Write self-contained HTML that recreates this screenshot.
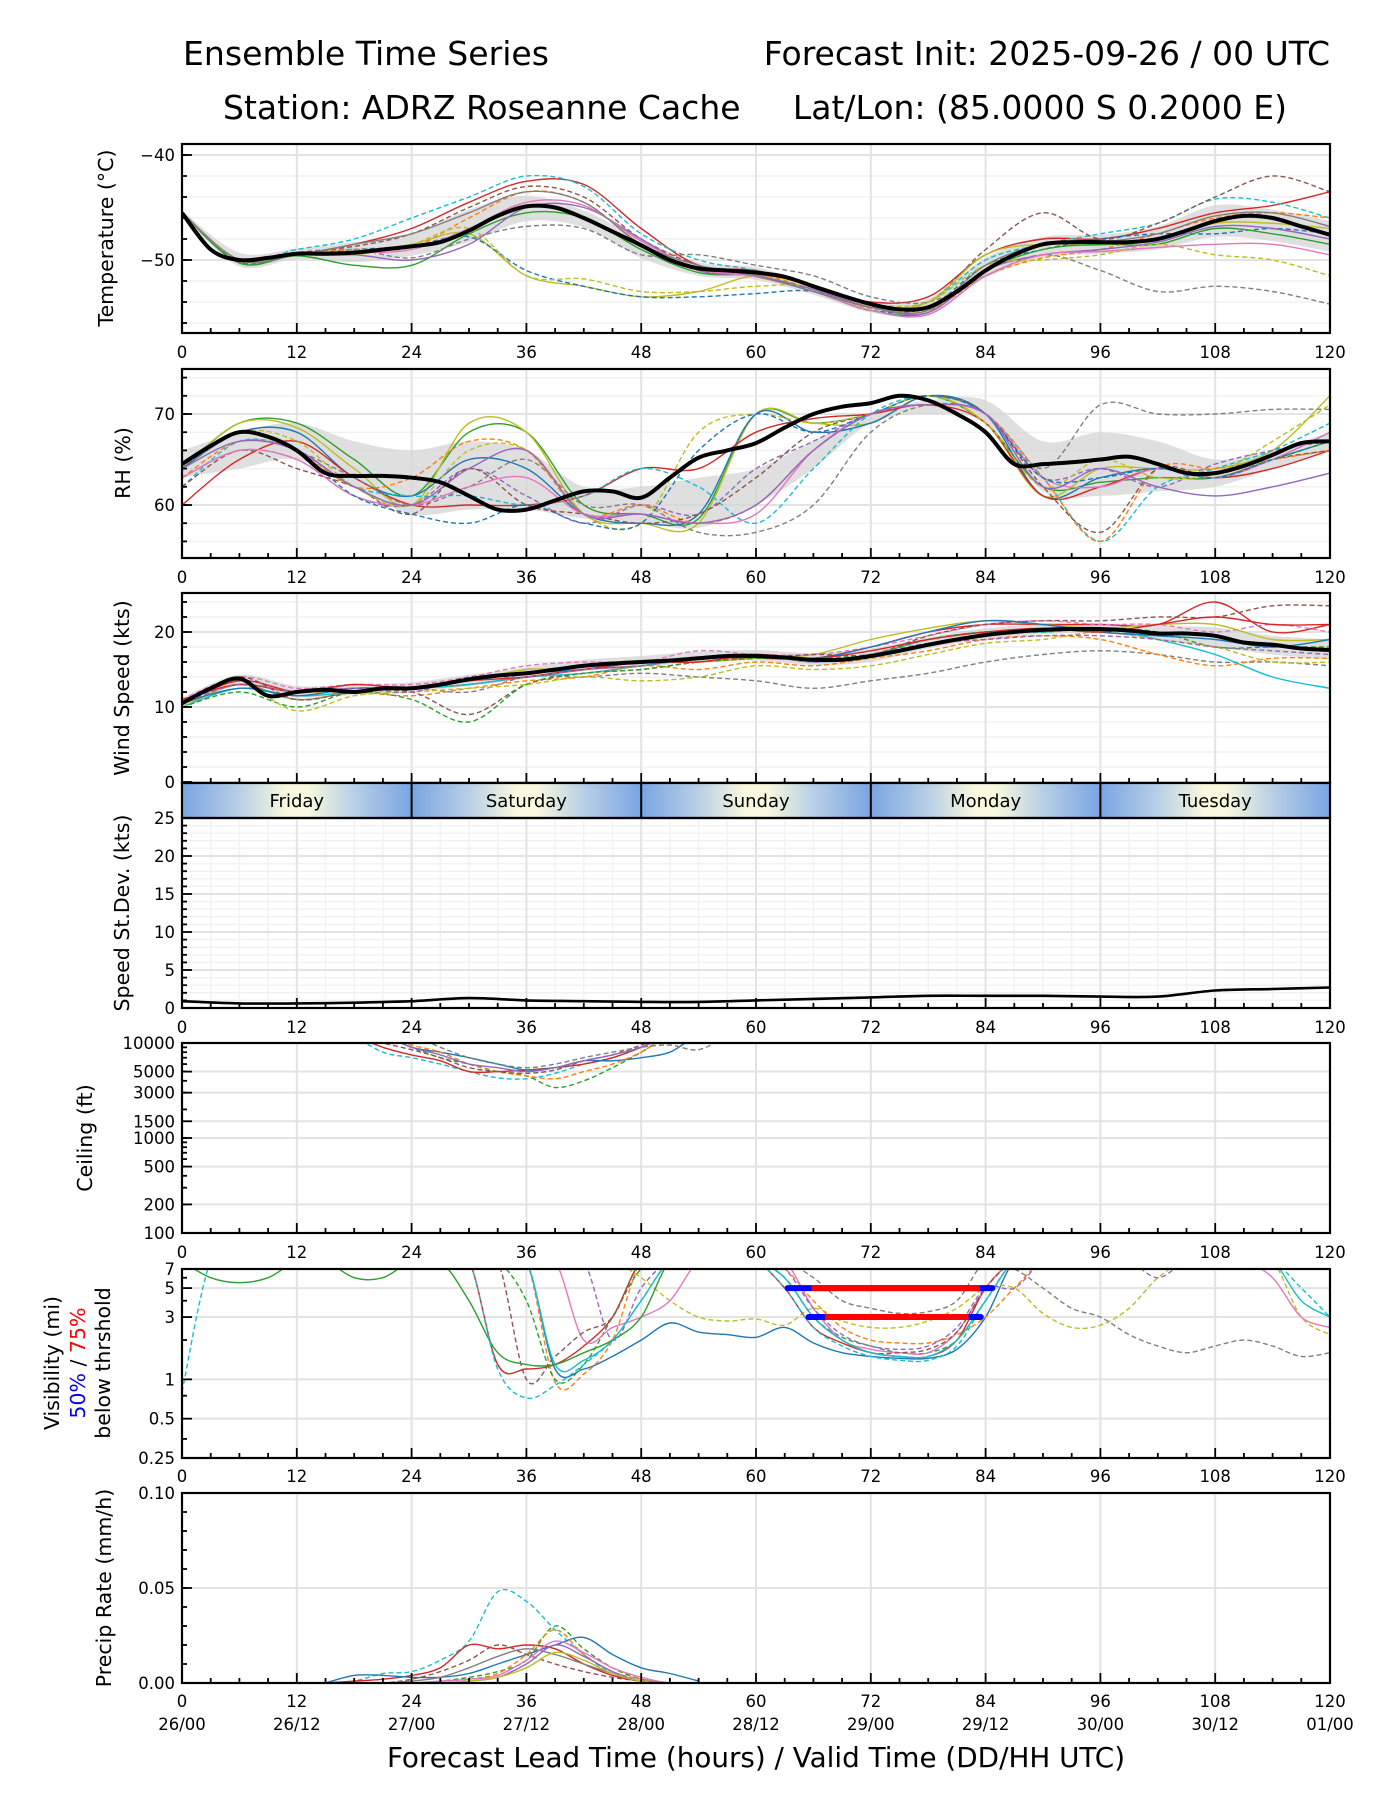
<!DOCTYPE html>
<html><head><meta charset="utf-8"><title>Ensemble Time Series</title>
<style>
html,body{margin:0;padding:0;background:#fff;}
svg{display:block;font-family:"DejaVu Sans","Liberation Sans",sans-serif;}
</style></head>
<body>
<svg id="chart" width="1400" height="1800" viewBox="0 0 1400 1800" xmlns="http://www.w3.org/2000/svg">
<rect width="1400" height="1800" fill="#fff"/>
<text x="183" y="65" font-size="33" textLength="366" lengthAdjust="spacingAndGlyphs">Ensemble Time Series</text>
<text x="1330" y="65" font-size="33" text-anchor="end">Forecast Init: 2025-09-26 / 00 UTC</text>
<text x="223" y="119" font-size="33">Station: ADRZ Roseanne Cache</text>
<text x="1287" y="119" font-size="33" text-anchor="end">Lat/Lon: (85.0000 S 0.2000 E)</text>
<g id="plots"></g>
<text x="756" y="1767" font-size="27.8" text-anchor="middle">Forecast Lead Time (hours) / Valid Time (DD/HH UTC)</text>
</svg>
<script>
// ---------- data ----------
const hours3 = [0,3,6,9,12,15,18,21,24,27,30,33,36,39,42,45,48,51,54,57,60,63,66,69,72,75,78,81,84,87,90,93,96,99,102,105,108,111,114,117,120];
const hours6 = [0,6,12,18,24,30,36,42,48,54,60,66,72,78,84,90,96,102,108,114,120];
const xTickLabels = ["0","12","24","36","48","60","72","84","96","108","120"];
const validLabels = ["26/00","26/12","27/00","27/12","28/00","28/12","29/00","29/12","30/00","30/12","01/00"];
const dayNames = ["Friday","Saturday","Sunday","Monday","Tuesday"];

const tempMean = [-45.5,-49,-50,-49.8,-49.4,-49.4,-49.3,-49,-48.7,-48.3,-47.2,-45.8,-44.9,-45,-46,-47.3,-48.6,-50,-50.8,-51,-51.2,-51.6,-52.5,-53.4,-54.2,-54.7,-54.5,-53,-51,-49.5,-48.5,-48.3,-48.3,-48.3,-48,-47.2,-46.3,-45.8,-46,-46.8,-47.6];
const tempHi = [-45.3,-49.3,-48.9,-48.3,-47.5,-45.2,-43.9,-45.3,-48,-50.2,-50.7,-52.3,-54,-53.7,-49.8,-47.8,-47.6,-46.8,-44.8,-45.2,-46.3];
const tempLo = [-45.8,-50.6,-49.9,-50.2,-49.6,-48.3,-46.3,-46.9,-49.8,-51.5,-51.9,-53.3,-55,-55.2,-51.7,-49.8,-49.4,-49,-47.8,-48.2,-49.2];
const tempM1 = [-45.5,-50,-49.5,-48.5,-47,-44.5,-42.5,-42.8,-47,-50.5,-51,-52.5,-54,-53.5,-49.5,-48,-48,-47,-45.5,-44.8,-43.5];
const tempM2 = [-45.5,-50,-49,-48,-46,-44,-42,-43,-47.5,-50,-51,-52.5,-54.5,-54,-50,-48.5,-47.5,-46.5,-44.2,-44.5,-46];
const tempM3 = [-45.5,-50,-49.3,-48.7,-47.5,-45,-43,-44,-48,-50.5,-51.5,-52.8,-54.5,-54,-49,-45.5,-48,-46.5,-44,-42,-43.5];
const tempM4 = [-45.5,-50.2,-49.5,-49.5,-48.5,-47.5,-51.5,-52.5,-53.5,-53,-51.5,-52.5,-54.5,-54,-49.5,-48.5,-48.6,-48,-46.5,-46.5,-47];
const tempM5 = [-45.5,-50.2,-49.5,-49,-48.7,-47.8,-51,-52.5,-53.5,-53.5,-53.2,-53,-54.8,-54.5,-50.5,-49,-48,-47.5,-47.5,-47,-47.5];
const tempM6 = [-45.5,-50.3,-49.6,-50.5,-50.5,-47.5,-45.5,-46,-49,-51.2,-51.5,-53,-54.8,-55,-51,-49,-48.5,-48.5,-47,-47.5,-48.5];
const tempM7 = [-45.5,-50,-49.5,-49,-49.8,-48,-46.8,-47,-49.5,-49.5,-50.5,-51.5,-53.5,-54,-51.5,-49.5,-51,-53,-52.5,-53,-54.2];
const tempM8 = [-45.5,-50,-49.4,-49,-48.8,-46,-43.5,-44.5,-48.5,-51,-51.3,-52.8,-54.6,-54.8,-51.5,-49.8,-49,-47.5,-46,-45.5,-46];
const tempM9 = [-45.5,-50,-49.5,-49.5,-50,-48.5,-45,-45,-48,-51,-51.5,-52.8,-54.5,-55,-51,-49.5,-49,-48.3,-46.8,-47,-48];
const tempM10 = [-45.5,-50,-49.5,-49.3,-49,-47,-44.5,-44.8,-48.2,-50.8,-51.6,-53,-54.8,-55.2,-51.5,-49.5,-49.2,-48.8,-48.5,-48.5,-49.5];
const tempM11 = [-45.5,-50,-49.5,-49.5,-48.5,-47,-51.5,-51.8,-53,-53,-52.5,-52.5,-54.2,-54,-50.5,-50,-49.5,-48.5,-49.5,-50,-51.5];
const tempM12 = [-45.5,-50,-49.5,-48.5,-47.5,-45.5,-43.5,-44.5,-48.5,-50.5,-51.5,-53,-54.5,-54.8,-50.5,-48.5,-48.3,-47.5,-45.8,-45.5,-46.8];

const rhMean = [64.5,66.5,68,67.5,66,63.5,63.2,63.2,63,62.5,61,59.5,59.5,60.5,61.5,61.5,60.8,63,65.2,66,66.8,68.5,70,70.8,71.2,72,71.5,70,68,64.5,64.5,64.7,65,65.3,64.5,63.5,63.5,64.3,65.5,66.8,67];
const rhHi = [66,68,69,67,66,67,66,62,62,63,64,67,70,71.5,71.5,67,68,67,65,66,68];
const rhLo = [63,64,65,62,59,59.5,59.5,58.5,58,57.5,60,64,69,70,69,61.5,61,61.5,62,64,66];
const rhM1 = [64,69,69,65,61,68,68,60,59,58.5,70,69,70,72,69,62,62.5,63,63,65,67];
const rhM2 = [64,69,68.5,64,60,69,68,59,58,58,70,69,69,72,69,61,64,64,64,66,72];
const rhM3 = [64,68,68,63,61,65,64,59,58,59,70,68,69,72,70,61,63,64,63,65,68];
const rhM4 = [60,65,67,63,60,60,60,61,64,64,68,69.5,70,71,69,61,62,64,63,64,66];
const rhM5 = [62,67,66,62,61,61,60,61,64,62,58,64,70,72,70,63,56,62,64,66,69];
const rhM6 = [64,68,66,63,60,62,65,60,60,57,57,60,68,71,70,64,71,70,70,70.5,70.5];
const rhM7 = [63,67,66,62,63,67,66,59,60,58,60,66,70,71,70,63,56,64,64,65,66];
const rhM8 = [63,66,65,61,60,64,61,58,60,59,64,67,70,71,70,63,64,62,64.5,66,67];
const rhM9 = [62,66,64,62,59,64,60,59,58,59,63,68,70,72,70,62,57,64,63,65,66];
const rhM10 = [63,66,65,61,60,62,63,59,59,58,59,66,70,71,70,63,62,64,63,65,68];
const rhM11 = [64,68,67,62,60,66,66,59,58,68,70,69,70,72,69,62,65,63,63.5,67,71];
const rhM12 = [64,68,66,61,59,58,60,58,58,66,70,68,70,72,70,63,63,64,63,65,67];
const rhM13 = [64,67,66,62,60,64,66,59,59,58,60,66,70,71,70,62,64,62,61,62,63.5];

const windMean = [10.5,12.5,13.8,11.5,12,12.3,12,12.5,12.5,13,13.7,14.2,14.5,15,15.5,15.8,16,16.2,16.5,16.8,16.8,16.6,16.3,16.3,16.8,17.5,18.3,19,19.6,20,20.3,20.4,20.4,20.2,19.8,19.8,19.5,18.6,18.3,17.8,17.6];
const windHi = [11.2,14.3,12.8,13,13.3,14.3,15.3,16.3,16.8,17.4,17.6,17.2,17.8,19.3,20.5,21,21,20.8,20.6,19.5,19];
const windLo = [10,13,11.3,11.6,12,12.8,13.8,14.8,15.3,16,16.2,15.6,16,17.8,19,19.7,19.8,19,18,17,16.3];
const windM1 = [10.5,13.5,12,12.5,12.5,13,14,15,15.5,16.5,16.5,16.5,18,20,21,21,21,21,24,20,21];
const windM2 = [10,13,11,12,12.5,13.5,15,15,16,16,16.5,17,19,20.5,21.5,21,20.5,21,21,19,19];
const windM3 = [10.5,13,11,12,12.5,12,14,14,14.5,14,13.5,12.5,13.5,14.5,16,17,17.5,17,16,16,15.5];
const windM4 = [10,12.5,11.5,12,12.5,13,14,14.5,15.5,16.5,17,16,17,19,20,20,20.5,19,17,14,12.5];
const windM5 = [11,14,12.5,13,13,14,15.5,16,16,17.5,17,17,18,19.5,21,21.5,21,21,20,21,20];
const windM6 = [11,13,12,12,11.5,12.5,13.5,14,15.5,15,16,15.5,16.5,17.5,19,19.5,19,17,15.5,16.5,16.5];
const windM7 = [10.5,14,11,12,12,9,13,14.5,15,16,16.5,17,17,19.5,21,21.5,21.5,22,22,23.5,23.5];
const windM8 = [10,12,10,12,11,8,13,14.5,15,16,16.5,16.5,17,19,20,20,20.5,20,18,18,18];
const windM9 = [10,13,9.5,11.5,12,12.5,13,14,13.5,14,15.5,15,15.5,17,18.5,19,20,19,18,16,16];
const windM10 = [10.5,12.5,11.5,12.5,12.5,13.5,14.5,15,16,16.5,17,16.5,18,20,21.5,21,20,19.5,19,18,19];
const windM11 = [11,13,12,13,12.5,13.5,14,15,16,16,17,16.5,17.5,19,20,20.5,20,21,22,21,21];
const windM12 = [10.5,13,12,12.5,12,14,14,15,15.5,16.5,17,16,17,18.5,19,19.5,19.5,19,18,17.5,17];

const sdMean = [0.9,0.6,0.6,0.7,0.9,1.3,1.0,0.9,0.8,0.8,1.0,1.2,1.4,1.6,1.6,1.6,1.5,1.5,2.3,2.5,2.7];

const ceilHours = [18,21,24,27,30,33,36,39,42,45,48,51,54,57];
const ceilM1 = [12000,8000,7000,6000,5000,4300,4200,4800,6000,7000,9000,12000,12000,12000];
const ceilM2 = [12000,9000,7500,6500,5000,5000,5200,5500,6000,7000,9000,12000,12000,12000];
const ceilM3 = [12000,12000,9000,7000,6000,5000,4500,3400,4000,5500,8000,12000,12000,12000];
const ceilM4 = [12000,12000,9000,8000,7000,6000,5200,5500,6500,6500,7000,8000,12000,12000];
const ceilM5 = [12000,12000,9500,8000,6000,5000,4500,4200,5000,6000,8000,12000,12000,12000];
const ceilM6 = [12000,10000,8500,7000,5500,5000,4800,5200,6500,7500,9500,12000,12000,12000];
const ceilM7 = [12000,12000,12000,9000,7000,6000,5500,6000,7000,8000,9000,9500,8500,12000];
const ceilM8 = [12000,12000,9000,7500,6000,5500,5000,5500,6500,7500,9000,12000,12000,12000];

const visA = [8,8,8,8,8,8,8,8,8,8,8,8,8,1.2,1.2,1.5,2.0,2.7,2.3,2.2,2.1,2.5,1.9,1.6,1.5,1.45,1.45,1.7,3,8,8,8,8,8,8,8,8,8,8,8,8];
const visB = [8,8,8,8,8,8,8,8,8,8,8,8,8,8,8,8,6,4,3,2.8,2.9,2.6,3.5,2.8,2.5,2.5,2.8,3.5,5,5,3.2,2.5,2.6,3.5,6,8,8,8,8,3,2.2];
const visC = [8,8,8,8,8,8,8,8,8,8,8,8,8,8,8,8,8,8,8,8,8,8,6,4,3.5,3.2,3.3,4,8,7,5,3.5,3,2.2,1.8,1.6,1.8,2.0,1.8,1.5,1.6];
const visD = [8,8,8,8,8,8,8,8,8,8,8,1.3,1.2,1.3,1.8,3,8,8,8,8,8,5,2.5,1.9,1.6,1.5,1.5,2,5,8,8,8,8,8,8,8,8,8,8,8,8];
const visE = [8,8,8,8,8,8,8,8,8,8,8,8,8,0.95,1.1,2,8,8,8,8,8,7,4,2.5,2,1.9,1.9,2.2,3,5,8,8,8,8,8,8,8,8,8,8,8];
const visF = [8,8,8,8,8,8,8,8,8,8,8,8,4,1.0,1.3,3,7,8,8,8,8,6,3,2.1,1.8,1.6,1.6,2,4,8,8,8,8,8,8,8,8,8,8,8,8];
const visG = [8,8,8,8,8,8,8,8,8,8,8,8,8,8,2,2.5,3,4,8,8,8,8,3.5,2,1.7,1.6,1.6,2.3,5,8,8,8,8,8,8,8,8,8,6,3,2.5];
const visH = [8,8,8,8,8,8,8,8,8,8,8,8,1.0,1.5,2.3,3,8,8,8,8,8,6,3,2,1.6,1.6,1.7,2.3,5,8,8,8,8,8,8,8,8,8,8,8,8];
const visI = [8,8,8,8,8,8,8,8,8,8,8,8,8,8,8,2,5,8,8,8,8,7,3.5,2.2,1.8,1.7,1.8,2.5,5,5,8,8,8,8,6,8,8,8,8,8,8];
const visJ = [8,8,8,8,8,8,8,8,8,8,8,8,8,1.3,1.4,2,4,8,8,8,8,6,3,2,1.6,1.5,1.5,2,4,8,8,8,8,8,8,8,8,8,8,4,3];
const visK = [8,6,5.5,6,8,8,6,6,8,8,4,1.6,1.3,1.3,1.6,2,3,8,8,8,8,8,8,8,8,8,8,8,8,8,8,8,8,8,8,8,8,8,8,8,8];
const visCyanEarly = [0.8,8,8,8,8,8,8,8,8,8,8,1.2,0.72,0.9,1.3,2.0,4,8,8,8,8,5,2.5,1.8,1.5,1.4,1.4,1.8,4,8,8,8,8,8,8,8,8,8,8,5,3];
const visThreshold = [5,3];
const visBlueStart = [63.3,65.5];
const visBlueEnd = [84.7,83.5];
const visRedStart = [65.8,67.2];
const visRedEnd = [83.4,82.2];

const precipHours = [15,18,21,24,27,30,33,36,39,42,45,48,51,54];
const precipM1 = [0,0.001,0.005,0.006,0.012,0.022,0.048,0.043,0.028,0.015,0.005,0.001,0,0];
const precipM2 = [0,0.001,0.002,0.004,0.008,0.02,0.018,0.02,0.018,0.01,0.004,0.001,0,0];
const precipM3 = [0,0.004,0.004,0.003,0.003,0.005,0.01,0.015,0.02,0.024,0.015,0.008,0.005,0.001];
const precipM4 = [0,0,0,0,0.001,0.003,0.006,0.012,0.03,0.018,0.008,0.002,0,0];
const precipM5 = [0,0,0,0,0.001,0.002,0.005,0.015,0.028,0.015,0.006,0.002,0,0];
const precipM6 = [0,0,0,0.002,0.006,0.012,0.02,0.015,0.01,0.006,0.003,0.001,0,0];
const precipM7 = [0,0,0,0.001,0.003,0.008,0.014,0.018,0.015,0.01,0.005,0.001,0,0];
const precipM8 = [0,0,0,0,0.001,0.002,0.004,0.012,0.022,0.016,0.008,0.003,0,0];
const precipM9 = [0,0,0,0,0,0.001,0.003,0.01,0.02,0.014,0.006,0.001,0,0];
const precipM10 = [0,0,0,0,0,0.001,0.003,0.008,0.016,0.012,0.005,0.001,0,0];

const C = {blue:"#1f77b4",orange:"#ff7f0e",green:"#2ca02c",red:"#d62728",purple:"#9467bd",brown:"#8c564b",pink:"#e377c2",gray:"#7f7f7f",olive:"#bcbd22",cyan:"#17becf"};

// ---------- helpers ----------
const NS = "http://www.w3.org/2000/svg";
const root = document.getElementById("plots");
const X0 = 182, X1 = 1330;
function xs(h){ return X0 + (X1 - X0) * h / 120; }
function mk(tag, attrs, parent){
  const e = document.createElementNS(NS, tag);
  for (const k in attrs) e.setAttribute(k, attrs[k]);
  (parent || root).appendChild(e);
  return e;
}
function smoothPath(hs, vs, yf){
  const pts = hs.map((h,i)=>[xs(h), yf(vs[i])]);
  let d = "M" + pts[0][0].toFixed(1) + "," + pts[0][1].toFixed(1);
  for (let i=0;i<pts.length-1;i++){
    const p0 = pts[Math.max(0,i-1)], p1 = pts[i], p2 = pts[i+1], p3 = pts[Math.min(pts.length-1,i+2)];
    const c1x = p1[0] + (p2[0]-p0[0])/6, c1y = p1[1] + (p2[1]-p0[1])/6;
    const c2x = p2[0] - (p3[0]-p1[0])/6, c2y = p2[1] - (p3[1]-p1[1])/6;
    d += " C" + c1x.toFixed(1)+","+c1y.toFixed(1)+" "+c2x.toFixed(1)+","+c2y.toFixed(1)+" "+p2[0].toFixed(1)+","+p2[1].toFixed(1);
  }
  return d;
}
let clipId = 0;
function makePanel(name, top, bot){
  const g = mk("g", {});
  
  
  const id = "clip" + (clipId++);
  const cp = mk("clipPath", {id:id}, g);
  mk("rect", {x:X0, y:top, width:X1-X0, height:bot-top}, cp);
  const data = mk("g", {"clip-path":"url(#"+id+")"}, g);
  return {g, data, top, bot};
}
function grid(p, yvals, yf, minorYs, minorX){
  if (minorX){
    for (let h=3; h<120; h+=3){ if (h%12===0) continue;
      mk("line",{x1:xs(h),x2:xs(h),y1:p.top,y2:p.bot,stroke:"#f2f2f2","stroke-width":1.5},p.data); }
  }
  (minorYs||[]).forEach(v=>{ const y=yf(v);
    mk("line",{x1:X0,x2:X1,y1:y,y2:y,stroke:"#f1f1f1","stroke-width":1.5},p.data); });
  for (let h=12; h<120; h+=12){
    const l = mk("line",{x1:xs(h),x2:xs(h),y1:p.top,y2:p.bot,stroke:"#e3e3e3","stroke-width":2},p.data);
    
    
  }
  yvals.forEach(v=>{ const y=yf(v);
    const l = mk("line",{x1:X0,x2:X1,y1:y,y2:y,stroke:"#e3e3e3","stroke-width":2},p.data);
    
    
  });
}
function axes(p, yticks, ylabels, yf, minorTicks, xLabelY, twoLine){
  for (let h=3; h<120; h+=3){
    const len = (h%12===0)?10:5;
    mk("line",{x1:xs(h),x2:xs(h),y1:p.bot,y2:p.bot-len,stroke:"#000","stroke-width":1.8},p.g);
  }
  (minorTicks||[]).forEach(v=>{ const y=yf(v);
    mk("line",{x1:X0,x2:X0+5,y1:y,y2:y,stroke:"#000","stroke-width":1.8},p.g); });
  yticks.forEach((v,i)=>{ const y=yf(v);
    mk("line",{x1:X0,x2:X0+10,y1:y,y2:y,stroke:"#000","stroke-width":1.8},p.g);
    const t = mk("text",{x:X0-7,y:y+6,"font-size":16.5,"text-anchor":"end"},p.g);
    
    
    t.textContent = ylabels[i];
  });
  const fr = mk("rect",{x:X0,y:p.top,width:X1-X0,height:p.bot-p.top,fill:"none",stroke:"#000","stroke-width":2.2},p.g);
  
  
  if (xLabelY){
    xTickLabels.forEach((lab,i)=>{
      const t = mk("text",{x:xs(i*12),y:xLabelY,"font-size":16.5,"text-anchor":"middle"},p.g);
      
      
      t.textContent = lab;
      if (twoLine){
        const t2 = mk("text",{x:xs(i*12),y:xLabelY+23,"font-size":16.5,"text-anchor":"middle"},p.g);
        
        
        t2.textContent = validLabels[i];
      }
    });
  }
}
function ylabel(text, cx, cy, name){
  const t = mk("text",{x:cx,y:cy,"font-size":20.5,"text-anchor":"middle",transform:"rotate(-90 "+cx+" "+cy+")","dominant-baseline":"central"});
  
  
  t.textContent = text;
}
function member(p, hs, vs, yf, color, dashed, name){
  const e = mk("path",{d:smoothPath(hs,vs,yf),fill:"none",stroke:color,"stroke-width":1.4,"stroke-dasharray":dashed?"5,3":"none"},p.data);
  
  
}
function band(p, hs, lo, hi, yf, name){
  const up = smoothPath(hs, hi, yf);
  const rh = hs.slice().reverse(), rl = lo.slice().reverse();
  const dn = smoothPath(rh, rl, yf).replace(/^M/,"L");
  const e = mk("path",{d:up+" "+dn+" Z",fill:"#d4d4d4","fill-opacity":0.75,stroke:"none"},p.data);
  
  
}
function meanLine(p, hs, vs, yf, name){
  const e = mk("path",{d:smoothPath(hs,vs,yf),fill:"none",stroke:"#000","stroke-width":4,"stroke-linejoin":"round"},p.data);
  
  
}

// ---------- Temperature ----------
(function(){
  const p = makePanel("temperature",144,333);
  const yf = v => 155 + (-40 - v) * 10.5;
  const minors=[]; for(let v=-56;v<=-40;v+=2) minors.push(v);
  grid(p,[-40,-50],yf,minors,false);
  band(p,hours6,tempLo,tempHi,yf,"temperature-spread-band");
  const ms=[[tempM1,C.red,0],[tempM2,C.cyan,1],[tempM3,C.brown,1],[tempM4,C.olive,0],[tempM5,C.blue,1],[tempM6,C.green,0],[tempM7,C.gray,1],[tempM8,C.orange,1],[tempM9,C.purple,0],[tempM10,C.pink,0],[tempM11,C.olive,1],[tempM12,C.gray,0]];
  ms.forEach((m,i)=>member(p,hours6,m[0],yf,m[1],m[2],"temperature-member-"+(i+1)));
  meanLine(p,hours3,tempMean,yf,"temperature-mean-line");
  const mt=[]; for(let v=-56;v<=-40;v+=2) mt.push(v);
  axes(p,[-40,-50],["\u221240","\u221250"],yf,mt,358,false);
  ylabel("Temperature (\u00b0C)",106,238,"temperature-y-axis-title");
})();

// ---------- RH ----------
(function(){
  const p = makePanel("rh",369,558);
  const yf = v => 414 + (70 - v) * 9.1;
  const minors=[]; for(let v=56;v<=74;v+=2) minors.push(v);
  grid(p,[60,70],yf,minors,false);
  band(p,hours6,rhLo,rhHi,yf,"rh-spread-band");
  const ms=[[rhM1,C.green,0],[rhM2,C.olive,0],[rhM3,C.blue,0],[rhM4,C.red,0],[rhM5,C.cyan,1],[rhM6,C.gray,1],[rhM7,C.orange,1],[rhM8,C.purple,1],[rhM9,C.brown,1],[rhM10,C.pink,0],[rhM11,C.olive,1],[rhM12,C.blue,1],[rhM13,C.purple,0]];
  ms.forEach((m,i)=>member(p,hours6,m[0],yf,m[1],m[2],"rh-member-"+(i+1)));
  meanLine(p,hours3,rhMean,yf,"rh-mean-line");
  const mt=[]; for(let v=56;v<=74;v+=2) mt.push(v);
  axes(p,[60,70],["60","70"],yf,mt,583,false);
  ylabel("RH (%)",123,463,"rh-y-axis-title");
})();

// ---------- Wind ----------
(function(){
  const p = makePanel("wind-speed",593,783);
  const yf = v => 782 - v * 7.5;
  const minors=[]; for(let v=2;v<=24;v+=2) minors.push(v);
  grid(p,[0,10,20],yf,minors,false);
  band(p,hours6,windLo,windHi,yf,"wind-spread-band");
  const ms=[[windM1,C.red,0],[windM2,C.olive,0],[windM3,C.gray,1],[windM4,C.cyan,0],[windM5,C.pink,1],[windM6,C.orange,1],[windM7,C.brown,1],[windM8,C.green,1],[windM9,C.olive,1],[windM10,C.blue,0],[windM11,C.red,0],[windM12,C.purple,1]];
  ms.forEach((m,i)=>member(p,hours6,m[0],yf,m[1],m[2],"wind-member-"+(i+1)));
  meanLine(p,hours3,windMean,yf,"wind-mean-line");
  const mt=[]; for(let v=2;v<=24;v+=2) mt.push(v);
  axes(p,[0,10,20],["0","10","20"],yf,mt,null,false);
  ylabel("Wind Speed (kts)",122,688,"wind-y-axis-title");
})();

// ---------- Day band ----------
(function(){
  const defs = mk("defs",{});
  const lg = mk("linearGradient",{id:"dayGrad",x1:"0",x2:"1",y1:"0",y2:"0"},defs);
  [["0","#7aa5e3"],["0.25","#b8cfe6"],["0.45","#f7f8de"],["0.55","#f7f8de"],["0.75","#b8cfe6"],["1","#7aa5e3"]].forEach(s=>mk("stop",{offset:s[0],"stop-color":s[1]},lg));
  dayNames.forEach((d,i)=>{
    const r = mk("rect",{x:xs(24*i),y:784,width:xs(24)-xs(0),height:34,fill:"url(#dayGrad)"});
    
    
    const t = mk("text",{x:xs(24*i+12),y:807,"font-size":18,"text-anchor":"middle"});
    
    
    t.textContent = d;
    if (i>0) mk("line",{x1:xs(24*i),x2:xs(24*i),y1:784,y2:818,stroke:"#000","stroke-width":2});
  });
  mk("rect",{x:X0,y:783,width:X1-X0,height:35,fill:"none",stroke:"#000","stroke-width":2.2});
})();

// ---------- Speed St.Dev ----------
(function(){
  const p = makePanel("speed-stdev",818,1008);
  const yf = v => 1008 - v * 7.6;
  const minors=[]; for(let v=1;v<25;v++) if(v%5) minors.push(v);
  grid(p,[5,10,15,20],yf,minors,true);
  meanLine(p,hours6,sdMean,yf,"speed-stdev-line");
  p.data.lastChild.setAttribute("stroke-width","2.6");
  axes(p,[0,5,10,15,20,25],["0","5","10","15","20","25"],yf,minors,1033,false);
  ylabel("Speed St.Dev. (kts)",122,913,"speed-stdev-y-axis-title");
})();

// ---------- Ceiling ----------
(function(){
  const p = makePanel("ceiling",1043,1233);
  const yf = v => 1043 + (4 - Math.log10(v)) / 2 * 190;
  grid(p,[5000,3000,1500,1000,500,200],yf,[],false);
  const ms=[[ceilM1,C.cyan,1],[ceilM2,C.red,0],[ceilM3,C.green,1],[ceilM4,C.blue,0],[ceilM5,C.orange,1],[ceilM6,C.brown,1],[ceilM7,C.gray,1],[ceilM8,C.purple,0]];
  ms.forEach((m,i)=>member(p,ceilHours,m[0],yf,m[1],m[2],"ceiling-member-"+(i+1)));
  const mt=[200,300,400,500,600,700,800,900,1000,2000,3000,4000,5000,6000,7000,8000,9000];
  axes(p,[10000,5000,3000,1500,1000,500,200,100],["10000","5000","3000","1500","1000","500","200","100"],yf,mt,1258,false);
  ylabel("Ceiling (ft)",85,1138,"ceiling-y-axis-title");
})();

// ---------- Visibility ----------
(function(){
  const p = makePanel("visibility",1269,1458);
  const yf = v => 1269 + (Math.log10(7) - Math.log10(v)) / Math.log10(28) * 189;
  grid(p,[5,3,1,0.5],yf,[],false);
  const ms=[[visA,C.blue,0],[visB,C.olive,1],[visC,C.gray,1],[visD,C.red,0],[visE,C.orange,1],[visF,C.green,1],[visG,C.pink,0],[visH,C.brown,1],[visI,C.purple,1],[visJ,C.cyan,0],[visK,C.green,0],[visCyanEarly,C.cyan,1]];
  ms.forEach((m,i)=>member(p,hours3,m[0],yf,m[1],m[2],"visibility-member-"+(i+1)));
  visThreshold.forEach((v,i)=>{
    const y = yf(v);
    const b = mk("line",{x1:xs(visBlueStart[i]),x2:xs(visBlueEnd[i]),y1:y,y2:y,stroke:"#0000ff","stroke-width":6,"stroke-linecap":"round"},p.data);
    
    
    const r = mk("line",{x1:xs(visRedStart[i]),x2:xs(visRedEnd[i]),y1:y,y2:y,stroke:"#ff0000","stroke-width":6},p.data);
    
    
  });
  axes(p,[7,5,3,1,0.5,0.25],["7","5","3","1","0.5","0.25"],yf,[2,4,6,0.75,0.35],1482,false);
  const t = mk("text",{x:52,y:1363,"font-size":20.5,"text-anchor":"middle",transform:"rotate(-90 52 1363)","dominant-baseline":"central"});
  
  
  t.textContent = "Visibility (mi)";
  const t2 = mk("text",{x:78,y:1363,"font-size":20.5,"text-anchor":"middle",transform:"rotate(-90 78 1363)","dominant-baseline":"central"});
  
  
  const s1 = mk("tspan",{fill:"#0000ff"},t2); s1.textContent="50%";
  const s2 = mk("tspan",{fill:"#000"},t2); s2.textContent=" / ";
  const s3 = mk("tspan",{fill:"#ff0000"},t2); s3.textContent="75%";
  const t3 = mk("text",{x:103,y:1363,"font-size":20.5,"text-anchor":"middle",transform:"rotate(-90 103 1363)","dominant-baseline":"central"});
  
  
  t3.textContent = "below thrshold";
})();

// ---------- Precip ----------
(function(){
  const p = makePanel("precip-rate",1493,1683);
  const yf = v => 1683 - v / 0.1 * 190;
  grid(p,[0.05],yf,[],false);
  const ms=[[precipM1,C.cyan,1],[precipM2,C.red,0],[precipM3,C.blue,0],[precipM4,C.green,1],[precipM5,C.orange,1],[precipM6,C.brown,1],[precipM7,C.gray,0],[precipM8,C.pink,0],[precipM9,C.purple,0],[precipM10,C.olive,0]];
  ms.forEach((m,i)=>member(p,precipHours,m[0],yf,m[1],m[2],"precip-member-"+(i+1)));
  const mt=[]; for(let v=0.01;v<0.1;v+=0.01) mt.push(v);
  axes(p,[0,0.05,0.1],["0.00","0.05","0.10"],yf,mt,1707,true);
  ylabel("Precip Rate (mm/h)",104,1588,"precip-y-axis-title");
})();
</script>
</body></html>
